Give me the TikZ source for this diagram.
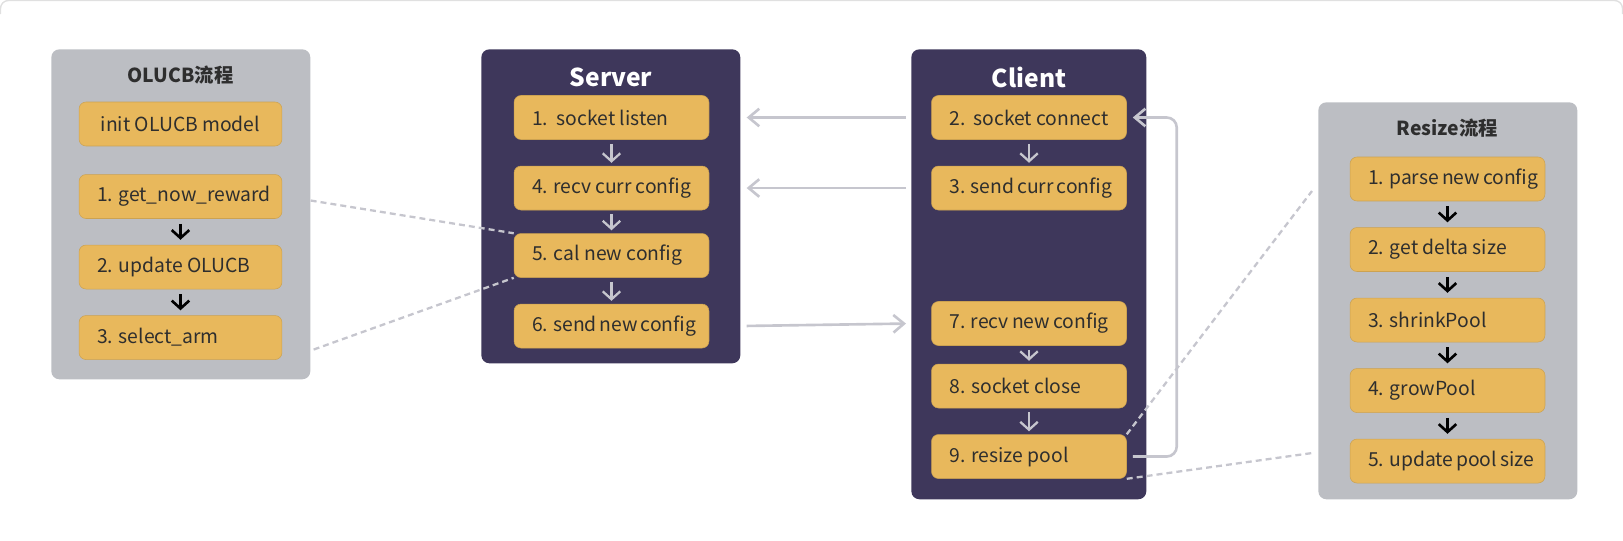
\documentclass[tikz,border=0pt]{standalone}
\usepackage{fontspec}
\setmainfont{Noto Sans CJK SC}
\usepackage{tikz}
\usetikzlibrary{arrows.meta,positioning,calc}
\definecolor{pnlgray}{rgb}{0.737,0.745,0.765}
\definecolor{pnlnavy}{rgb}{0.243,0.216,0.357}
\definecolor{stpgold}{rgb}{0.910,0.722,0.361}
\definecolor{lnkgray}{rgb}{0.776,0.776,0.808}
\definecolor{txtdark}{rgb}{0.18,0.18,0.18}

\begin{document}
\begin{tikzpicture}[x=0.02cm,y=-0.02cm,font=\fontsize{11}{13}\selectfont,node distance=0.52cm,
   pnl/.style={rounded corners=0.16cm,inner sep=0pt,anchor=north west},
   stp/.style={fill=stpgold,draw=stpgold!88!black,line width=0.3pt,rounded corners=0.14cm,
     minimum width=#1+0.72cm,minimum height=0.88cm,inner xsep=0.36cm,inner ysep=0pt,text=txtdark,
     execute at begin node={\hbox to #1\bgroup},execute at end node={\hfil\egroup}},
   stp/.default=3.18cm,
   ttl/.style={font=\fontsize{11}{13}\selectfont\bfseries,text=txtdark},
   nttl/.style={font=\fontsize{14}{17}\selectfont\bfseries,text=white},
   ga/.style={draw=lnkgray,line width=1.3pt,-{Straight Barb[length=4.5pt,width=10pt]},
     shorten <=0.08cm,shorten >=0.06cm},
   ka/.style={draw=black,line width=1.5pt,-{Straight Barb[length=4.5pt,width=10pt]},
     shorten <=0.1cm,shorten >=0.1cm},
   lk/.style={draw=lnkgray,line width=1.5pt,-{Straight Barb[length=6pt,width=10pt]}},
   dl/.style={draw=lnkgray,line width=1.3pt,dash pattern=on 3.4pt off 2.3pt}]
  \useasboundingbox (0,0) rectangle (1623,541);
  \draw[black!12,line width=0.8pt,rounded corners=0.16cm] (0.5,14) |- (1622.5,0.5) -- (1622.5,14);

  % panels
  \node[pnl,fill=pnlgray,minimum width=5.18cm,minimum height=6.6cm] (olucb) at (51,49) {};
  \node[pnl,fill=pnlnavy,minimum width=5.18cm,minimum height=6.28cm] (server) at (481,49) {};
  \node[pnl,fill=pnlnavy,minimum width=4.7cm,minimum height=9.0cm] (client) at (911,49) {};
  \node[pnl,fill=pnlgray,minimum width=5.18cm,minimum height=7.94cm] (resize) at (1318,102) {};

  \node[ttl] (olucbt) at (180.5,75) {OLUCB流程};
  \node[nttl] (servert) at (611,77) {Server};
  \node[nttl] (clientt) at (1029,77) {Client};
  \node[ttl] (resizet) at (1447.5,128) {Resize流程};

  % OLUCB
  \node[stp=3.34cm] (l0) at (180.5,124) {\hfil init OLUCB model};
  \node[stp=3.34cm,below=0.56cm of l0] (l1) {1. get\_now\_reward};
  \node[stp=3.34cm,below=of l1] (l2) {2. update OLUCB};
  \node[stp=3.34cm,below=of l2] (l3) {3. select\_arm};
  \draw[ka] (l1) -- (l2);
  \draw[ka] (l2) -- (l3);

  % server
  \node[stp] (s1) at (611.5,117.5) {1.\ \ socket listen};
  \node[stp,below=of s1] (s4) {4. recv curr config};
  \node[stp,below=0.46cm of s4] (s5) {5. cal new config};
  \node[stp,below=of s5] (s6) {6. send new config};
  \draw[ga] (s1) -- (s4);
  \draw[ga] (s4) -- (s5);
  \draw[ga] (s5) -- (s6);

  % client
  \node[stp] (c2) at (1029,117.5) {2.\ \ socket connect};
  \node[stp,below=of c2] (c3) {3. send curr config};
  \node[stp] (c7) at (1029,323.5) {7. recv new config};
  \node[stp,below=0.36cm of c7] (c8) {8. socket close};
  \node[stp,below=of c8] (c9) {9. resize pool};
  \draw[ga] (c2) -- (c3);
  \draw[ga] (c7) -- (c8);
  \draw[ga] (c8) -- (c9);

  % resize
  \node[stp] (r1) at (1447.5,179) {1. parse new config};
  \node[stp,below=of r1] (r2) {2. get delta size};
  \node[stp,below=of r2] (r3) {3. shrinkPool};
  \node[stp,below=of r3] (r4) {4. growPool};
  \node[stp,below=of r4] (r5) {5. update pool size};
  \foreach \u/\v in {r1/r2,r2/r3,r3/r4,r4/r5}
    \draw[ka] (\u) -- (\v);

  % links
  \draw[lk,shorten <=0.1cm,shorten >=0.12cm] (c2.west -| client.west) -- (s1.east -| server.east);
  \draw[lk,shorten <=0.1cm,shorten >=0.12cm] (c3.west -| client.west) -- (s4.east -| server.east);
  \draw[lk,shorten <=0.12cm,shorten >=0.1cm] (s6.east -| server.east) -- (c7.west -| client.west);
  \draw[lk,rounded corners=0.2cm] ([xshift=0.12cm]c9.east) -| ([xshift=1cm]c2.east) -- ([xshift=0.12cm]c2.east);

  \draw[dl] ($(l1.east -| olucb.east)+(0,4)$) -- (s5.north west);
  \draw[dl] ($(l3.east -| olucb.east)+(3,12)$) -- (s5.south west);
  \draw[dl] (c9.north east) -- ($(r1.east -| resize.west)+(-6,12)$);
  \draw[dl] (c9.south east) -- ($(r5.west -| resize.west)+(-6,-8)$);
\end{tikzpicture}
\end{document}
